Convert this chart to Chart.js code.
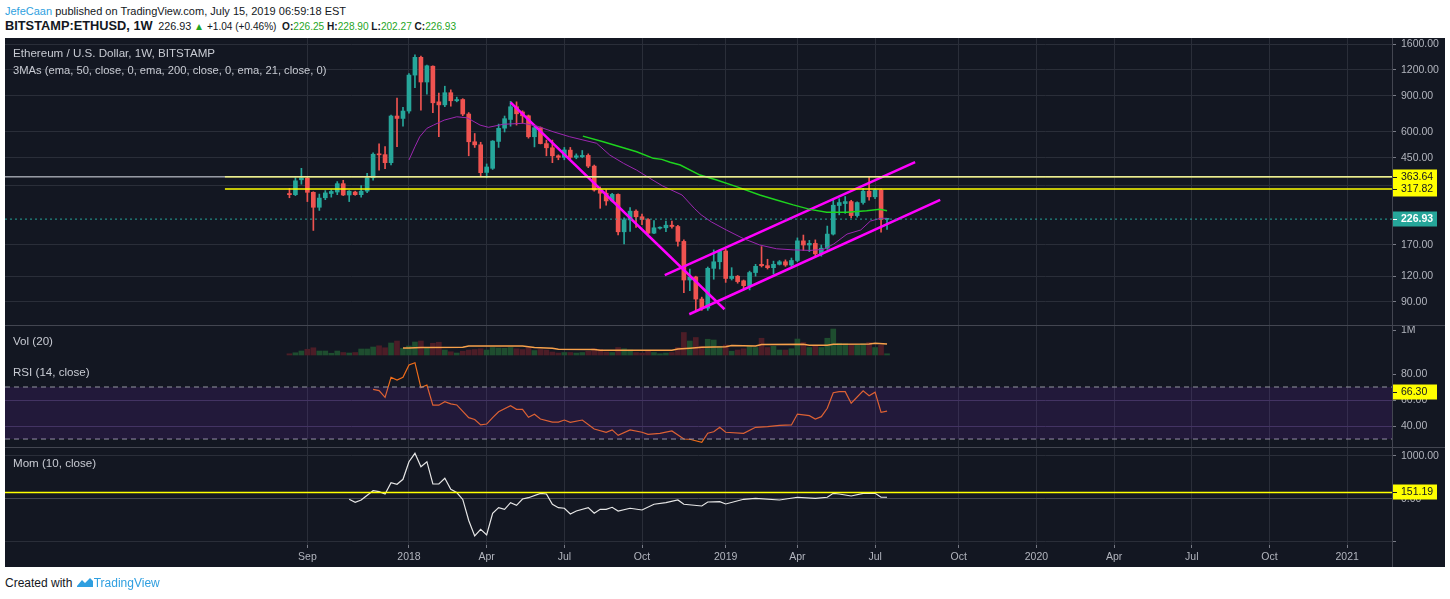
<!DOCTYPE html>
<html>
<head>
<meta charset="utf-8">
<script src="https://cdn.jsdelivr.net/npm/chart.js@4.4.1/dist/chart.umd.min.js"></script>
<style>
  body { margin: 0; width: 1450px; height: 599px; background: #fff; position: relative; overflow: hidden;
         font-family: "Liberation Sans", Arial, sans-serif; }
  .abs { position: absolute; white-space: nowrap; }
  #panel { left: 5px; top: 38px; width: 1440px; height: 529px; background: #131722; }
  canvas { position: absolute; left: 5px; }
  .sep { position: absolute; background: #434651; }
  .lbl { color: #c8cbd3; font-size: 11.6px; line-height: 14px; }
  .hdr { line-height: 16px; color: #131722; }
  .grn { color: #1fa51f; }
</style>
</head>
<body>
<div class="abs hdr" style="left:5px;top:3px;font-size:11px"><span style="color:#2f9fe0">JefeCaan</span> published on TradingView.com, July 15, 2019 06:59:18 EST</div>
<div class="abs hdr" style="left:5px;top:18px;font-size:10.1px"><b style="font-size:12.8px">BITSTAMP:ETHUSD, 1W</b>&nbsp; <span style="font-size:10.8px">226.93</span> <span class="grn">&#9650;</span> +1.04 (+0.46%) &nbsp;<b>O:</b><span class="grn">226.25</span> <b>H:</b><span class="grn">228.90</span> <b>L:</b><span class="grn">202.27</span> <b>C:</b><span class="grn">226.93</span></div>

<div id="panel" class="abs"></div>
<canvas id="mainChart" width="1440" height="287" style="top:38px"></canvas>
<canvas id="volChart" width="1440" height="32" style="top:325px"></canvas>
<canvas id="rsiChart" width="1440" height="90" style="top:357px"></canvas>
<canvas id="momChart" width="1440" height="120" style="top:447px"></canvas>

<div class="sep" style="left:5px;top:325px;width:1440px;height:1px"></div>
<div class="sep" style="left:5px;top:447px;width:1440px;height:1px"></div>
<div class="sep" style="left:1392px;top:38px;width:1px;height:529px"></div>

<div class="abs lbl" style="left:13px;top:46px">Ethereum / U.S. Dollar, 1W, BITSTAMP</div>
<div class="abs lbl" style="left:13px;top:63px;font-size:11.2px">3MAs (ema, 50, close, 0, ema, 200, close, 0, ema, 21, close, 0)</div>
<div class="abs lbl" style="left:13px;top:334px">Vol (20)</div>
<div class="abs lbl" style="left:13px;top:365px">RSI (14, close)</div>
<div class="abs lbl" style="left:13px;top:456px">Mom (10, close)</div>

<div class="abs" style="left:5px;top:575px;font-size:12px;line-height:16px;color:#131722">Created with
  <svg width="18" height="12" viewBox="0 0 18 12" style="vertical-align:-1px"><path d="M1 10 L6 4 L9 7 L14 2 L17 5 L17 11 L1 11 Z" fill="#2f9fe0"/></svg><span style="color:#2f9fe0">TradingView</span></div>

<script>
// weekly candles, first bar = week of Aug 14 2017 (week index -20, 0 = Jan 1 2018)
const firstWeek = -20;
const opens = [
  302, 298, 352, 358, 306, 259, 288, 302, 307, 337,
  297, 307, 298, 310, 360, 470, 466, 426, 717, 698,
  758, 1132, 1380, 1048, 1250, 840, 812, 930, 850, 862,
  733, 538, 520, 382, 400, 540, 626, 690, 795, 750,
  719, 569, 629, 527, 503, 460, 452, 490, 452, 455,
  462, 410, 314, 303, 278, 299, 197, 225, 248, 233,
  226, 194, 205, 206, 212, 209, 177, 115, 119, 93,
  84, 131, 141, 159, 117, 120, 114, 108, 125, 137,
  135, 132, 137, 141, 136, 143, 178, 170, 173, 154,
  164, 192, 264, 270, 276, 236, 273, 310, 291, 314,
  226.25
];
const highs = [
  320, 360, 400, 362, 308, 300, 312, 315, 345, 350,
  312, 310, 330, 378, 475, 525, 510, 725, 877, 790,
  1150, 1420, 1400, 1265, 1255, 926, 1000, 960, 885, 870,
  745, 590, 535, 420, 545, 655, 717, 845, 840, 760,
  725, 640, 635, 548, 548, 465, 505, 505, 470, 488,
  470, 415, 325, 315, 303, 301, 230, 258, 252, 240,
  228, 223, 208, 222, 222, 212, 180, 130, 120, 95,
  133, 161, 162, 162, 132, 121, 115, 127, 137, 167,
  145, 142, 143, 144, 147, 184, 190, 179, 180, 170,
  210, 286, 285, 292, 280, 275, 320, 363.64, 318, 318,
  228.90
];
const lows = [
  288, 295, 335, 276, 200, 250, 282, 290, 298, 295,
  276, 296, 290, 305, 350, 392, 398, 415, 509, 640,
  740, 984, 766, 915, 744, 569, 796, 800, 840, 720,
  460, 505, 367, 360, 395, 505, 600, 640, 648, 664,
  560, 508, 525, 460, 426, 440, 440, 445, 445, 450,
  403, 310, 256, 265, 275, 190, 172, 198, 207, 213,
  188, 193, 203, 197, 205, 168, 100, 102, 82, 82,
  82, 116, 130, 112, 115, 111, 103, 103, 120, 133,
  130, 123, 136, 134, 132, 141, 160, 158, 150, 150,
  162, 190, 238, 242, 230, 232, 268, 280, 285, 196,
  202.27
];
const closes = [
  298, 348, 360, 306, 259, 287, 304, 309, 337, 297,
  310, 298, 310, 360, 468, 465, 426, 717, 698, 758,
  1132, 1380, 1048, 1256, 831, 812, 930, 850, 862, 733,
  538, 520, 381, 406, 542, 625, 696, 795, 735, 719,
  569, 629, 527, 503, 460, 452, 491, 452, 460, 462,
  410, 314, 303, 278, 299, 197, 225, 248, 233, 226,
  194, 206, 206, 212, 209, 177, 115, 119, 93, 84,
  131, 141, 159, 117, 120, 113, 108, 125, 134, 135,
  132, 137, 141, 136, 143, 178, 170, 173, 154, 164,
  192, 265, 273, 276, 236, 273, 310, 291, 314, 226,
  226.93
];
// weekly volume, millions
const volumes = [
  0.05, 0.09, 0.16, 0.23, 0.29, 0.16, 0.16, 0.07, 0.16, 0.10,
  0.08, 0.10, 0.24, 0.24, 0.32, 0.37, 0.29, 0.48, 0.56, 0.27,
  0.36, 0.52, 0.56, 0.29, 0.47, 0.51, 0.20, 0.13, 0.08, 0.15,
  0.20, 0.22, 0.25, 0.20, 0.30, 0.28, 0.27, 0.30, 0.25, 0.22,
  0.30, 0.18, 0.22, 0.20, 0.12, 0.08, 0.10, 0.10, 0.08, 0.10,
  0.15, 0.25, 0.22, 0.12, 0.10, 0.30, 0.25, 0.20, 0.10, 0.08,
  0.18, 0.10, 0.05, 0.08, 0.10, 0.30, 0.90, 0.56, 0.70, 0.35,
  0.63, 0.60, 0.35, 0.40, 0.15, 0.20, 0.25, 0.35, 0.30, 0.67,
  0.30, 0.35, 0.20, 0.20, 0.25, 0.64, 0.50, 0.30, 0.35, 0.30,
  0.67, 1.04, 0.47, 0.45, 0.40, 0.40, 0.45, 0.50, 0.30, 0.40,
  0.05
];
// indicator lines: [week, value]
const ema21 = [[0,439],[1,509],[1.8,569],[3,625],[4.1,648],[5.9,685],[8,711],[9.7,703],[10.2,691],[11.9,648],[13.3,632],[15.8,654],[19.1,661],[21.4,641],[24.1,602],[26.9,569],[31.4,529],[33.6,464],[35.9,423],[38.1,392],[40.3,358],[42.4,329],[45.7,297],[47.8,255],[48.9,238],[50.6,220],[53.1,201],[55.9,183],[58.7,170],[61.5,163],[64.3,161],[67.1,160],[69.4,162],[71.1,172],[73.3,192],[75.6,201],[77.2,222],[78.9,229],[80,229]];
const ema50 = [[29.1,573],[32.5,538],[35.3,509],[38.1,481],[40.9,447],[42.3,442],[43.7,428],[45.4,415],[48.7,371],[51.5,351],[54.8,326],[58.7,297],[61.5,281],[64.3,266],[67.1,253],[69.9,245],[73.3,245],[76.6,249],[78.8,253],[80,249]];
const volMa = [[-1,0.28],[0,0.28],[2,0.30],[9,0.31],[10,0.36],[19,0.36],[21,0.30],[24,0.27],[25,0.23],[31,0.22],[32,0.19],[44,0.19],[45,0.24],[47,0.27],[49,0.31],[53,0.33],[54,0.38],[58,0.36],[59,0.42],[66,0.43],[67,0.39],[70,0.39],[71,0.43],[77,0.44],[78,0.47],[80,0.44]];
const rsi = [[-6,68.2],[-5,67.2],[-4,62],[-3,77.5],[-2,75.4],[-1,77.5],[0,87],[1,88.7],[2,69.5],[3,71.5],[4,56],[5,56],[6,58.7],[7,57],[8,56.2],[10,46.4],[11,45],[12,40.8],[13,41.5],[14,46.4],[15,51],[17,55.6],[18,52.8],[19,52.8],[20,46.7],[21,49],[22,45.4],[24,43],[25,43],[26,44.6],[27,42.8],[29,44.6],[31,37.7],[33,35.2],[34,37],[35,32.8],[37,37],[39,35.2],[40,33.6],[42,34.4],[44,36.2],[46,30],[47,29.8],[49,27.5],[50,34.4],[51,35.6],[52,39],[53,35.2],[56,34.4],[58,39],[60,39.5],[62,40.5],[64,40.8],[65,49.2],[67,48],[68,45.4],[69,47.2],[70,53.6],[71,65.6],[72,66.4],[73,66.4],[74,57.5],[76,67],[77,63.3],[78,66],[79,50.5],[80,51.5]];
const mom = [[-10,-7],[-9,-77],[-8,-23],[-6,193],[-5,170],[-4,116],[-3,379],[-2,342],[-1,458],[0,867],[1,1063],[2,751],[3,867],[4,349],[5,349],[6,481],[7,226],[8,150],[9,-10],[10,-500],[11,-860],[12,-705],[13,-837],[14,-333],[15,-202],[16,-240],[17,-86],[18,-147],[19,0],[20,30],[22,132],[23,116],[24,-123],[25,-202],[26,-216],[27,-349],[28,-279],[30,-202],[31,-333],[32,-240],[33,-240],[34,-193],[35,-279],[37,-216],[39,-256],[41,-123],[43,-86],[45,-23],[46,-123],[49,-163],[50,-70],[52,-63],[53,-116],[56,-7],[58,16],[62,-23],[65,40],[68,16],[70,40],[71,132],[72,116],[74,70],[76,132],[78,132],[79,40],[80,40]];
// drawn trend lines: [week, price] pairs
const downTrend = [[17.0, 835], [52.8, 83]];
const upperChannel = [[42.8, 121.6], [84.7, 429]];
const lowerChannel = [[46.9, 78.5], [88.9, 281]];
const levelHigh = 363.64;
const levelLow = 317.82;
const levelStart = -30.8;
const lastPrice = 226.93;
const rsiLast = 66.30;
const momLevel = 151.19;
// time axis
const tickWeeks = [-17, 0, 13, 26, 39, 53, 65, 78, 92, 105, 118, 131, 144, 157];
const tickLabels = ['Sep', '2018', 'Apr', 'Jul', 'Oct', '2019', 'Apr', 'Jul', 'Oct', '2020', 'Apr', 'Jul', 'Oct', '2021'];
const priceTicks = [90, 120, 170, 330, 450, 600, 900, 1200, 1600];

const xMin = -67.6, xMax = 164.5;
const upColor = '#26a69a', downColor = '#ef5350';
const gridColor = '#2a2e39';
const axisText = '#b2b5be';
const axisFont = { family: 'Liberation Sans', size: 10.5 };

const pts = arr => arr.map(p => ({ x: p[0], y: p[1] }));
const hline = (y, from) => [{ x: from, y: y }, { x: xMax, y: y }];
const isUp = i => closes[i] >= opens[i];

function xScale(showLabels) {
  return {
    type: 'linear', min: xMin, max: xMax, bounds: 'data', offset: false,
    afterBuildTicks: s => { s.ticks = tickWeeks.map(v => ({ value: v })); },
    grid: { color: gridColor, drawTicks: showLabels, tickLength: 3, tickColor: '#787b86', offset: false },
    border: { display: false },
    ticks: {
      display: showLabels, autoSkip: false, maxRotation: 0, padding: 3,
      color: axisText, font: axisFont,
      callback: (v, i) => tickLabels[i]
    },
    afterFit: s => {
      s.height = showLabels ? 22 : 0;
      s.paddingLeft = 0; s.paddingRight = 0; s.paddingTop = 0; s.paddingBottom = 0;
    }
  };
}

function yScale(extra, tickVals, fmt, gridFn) {
  return Object.assign({
    position: 'right', bounds: 'data',
    afterBuildTicks: s => { s.ticks = tickVals.map(v => ({ value: v })); },
    grid: { color: gridFn || gridColor, drawTicks: true, tickLength: 4, tickColor: '#787b86' },
    border: { display: true, color: '#434651' },
    ticks: { autoSkip: false, padding: 5, color: axisText, font: axisFont, callback: fmt },
    afterFit: s => {
      s.width = 53;
      s.paddingTop = 0; s.paddingBottom = 0; s.paddingLeft = 0; s.paddingRight = 0;
    }
  }, extra);
}

function badges(items) {
  return {
    id: 'badges',
    afterDraw(chart) {
      const ctx = chart.ctx;
      const left = chart.chartArea.right;
      items.forEach(b => {
        const py = Math.round(chart.scales.y.getPixelForValue(b.value));
        ctx.save();
        ctx.fillStyle = b.bg;
        ctx.fillRect(left + 1, py - 7.5, 44, 15);
        ctx.strokeStyle = b.fg;
        ctx.lineWidth = 1;
        ctx.beginPath();
        ctx.moveTo(left + 1, py + 0.5);
        ctx.lineTo(left + 5, py + 0.5);
        ctx.stroke();
        ctx.fillStyle = b.fg;
        ctx.font = (b.bold ? 'bold ' : '') + '10.5px "Liberation Sans"';
        ctx.textBaseline = 'middle';
        ctx.textAlign = 'left';
        ctx.fillText(b.text, left + 9, py + 0.5);
        ctx.restore();
      });
    }
  };
}

const baseOptions = {
  responsive: false,
  animation: false,
  layout: { padding: 0 },
  plugins: { legend: { display: false }, tooltip: { enabled: false } },
  elements: { point: { radius: 0 }, line: { tension: 0 } }
};

function lineSet(data, color, width, extra) {
  return Object.assign({ type: 'line', data: data, borderColor: color, borderWidth: width, fill: false, order: 0 }, extra);
}

// ---------- main price pane ----------
new Chart(document.getElementById('mainChart'), {
  type: 'line',
  data: {
    datasets: [
      lineSet(hline(lastPrice, xMin), upColor, 1, { borderDash: [2, 3] }),
      lineSet(hline(levelHigh, xMin), '#e0e3eb', 1),
      lineSet(hline(levelHigh, levelStart), '#ffff00', 1.5),
      lineSet(hline(levelLow, levelStart), '#ffff00', 1.5),
      {
        type: 'bar', order: 2, grouped: false, barThickness: 1,
        data: lows.map((l, i) => ({ x: firstWeek + i, y: [l, highs[i]] })),
        backgroundColor: lows.map((l, i) => isUp(i) ? upColor : downColor)
      },
      {
        type: 'bar', order: 1, grouped: false, barThickness: 4, minBarLength: 1,
        data: opens.map((o, i) => ({ x: firstWeek + i, y: [o, closes[i]] })),
        backgroundColor: opens.map((o, i) => isUp(i) ? upColor : downColor)
      },
      lineSet(pts(ema21), '#9c27b0', 1),
      lineSet(pts(ema50), '#1ed41e', 1.5),
      lineSet(pts(downTrend), '#ff00ff', 2.5),
      lineSet(pts(upperChannel), '#ff00ff', 2.5),
      lineSet(pts(lowerChannel), '#ff00ff', 2.5)
    ]
  },
  options: Object.assign({}, baseOptions, {
    scales: {
      x: xScale(false),
      y: yScale({ type: 'logarithmic', min: 69.62, max: 1712.5 }, priceTicks,
        v => v === 330 ? '' : v.toFixed(2))
    }
  }),
  plugins: [badges([
    { value: levelHigh, text: '363.64', bg: '#ffff00', fg: '#131722' },
    { value: levelLow, text: '317.82', bg: '#ffff00', fg: '#131722' },
    { value: lastPrice, text: '226.93', bg: upColor, fg: '#ffffff', bold: true }
  ])]
});

// ---------- volume pane ----------
new Chart(document.getElementById('volChart'), {
  type: 'line',
  data: {
    datasets: [
      {
        type: 'bar', order: 1, grouped: false, barThickness: 5,
        data: volumes.map((v, i) => ({ x: firstWeek + i, y: v })),
        backgroundColor: volumes.map((v, i) => isUp(i) ? '#1e4d2f' : '#4c1d27')
      },
      lineSet(pts(volMa), '#f7a14b', 1.5)
    ]
  },
  options: Object.assign({}, baseOptions, {
    scales: {
      x: xScale(false),
      y: yScale({ type: 'linear', min: -0.08, max: 1.2 }, [1], () => '1M', 'rgba(0,0,0,0)')
    }
  })
});

// ---------- RSI pane ----------
new Chart(document.getElementById('rsiChart'), {
  type: 'line',
  data: {
    datasets: [
      lineSet(hline(70, xMin), '#9598a1', 1, { borderDash: [5, 4], fill: '+1', backgroundColor: 'rgba(120,40,200,0.15)' }),
      lineSet(hline(30, xMin), '#9598a1', 1, { borderDash: [5, 4] }),
      lineSet(pts(rsi), '#ef6c1a', 1.2)
    ]
  },
  options: Object.assign({}, baseOptions, {
    scales: {
      x: xScale(false),
      y: yScale({ type: 'linear', min: 23.85, max: 93.08 }, [40, 60, 80], v => v.toFixed(2),
        ctx => ctx.tick && ctx.tick.value === 80 ? 'rgba(0,0,0,0)' : '#3a3552')
    }
  }),
  plugins: [badges([{ value: rsiLast, text: '66.30', bg: '#ffff00', fg: '#131722' }])]
});

// ---------- momentum pane + time axis ----------
new Chart(document.getElementById('momChart'), {
  type: 'line',
  data: {
    datasets: [
      lineSet(hline(momLevel, xMin), '#ffff00', 1.5),
      lineSet(pts(mom), '#e6e6e6', 1.2)
    ]
  },
  options: Object.assign({}, baseOptions, {
    scales: {
      x: xScale(true),
      y: yScale({ type: 'linear', min: -1070, max: 1209 }, [-1000, 0, 1000],
        v => v === -1000 ? '' : v.toFixed(2),
        ctx => ctx.tick && ctx.tick.value === 0 ? '#434651' : gridColor)
    }
  }),
  plugins: [badges([{ value: momLevel, text: '151.19', bg: '#ffff00', fg: '#131722' }])]
});
</script>
</body>
</html>
